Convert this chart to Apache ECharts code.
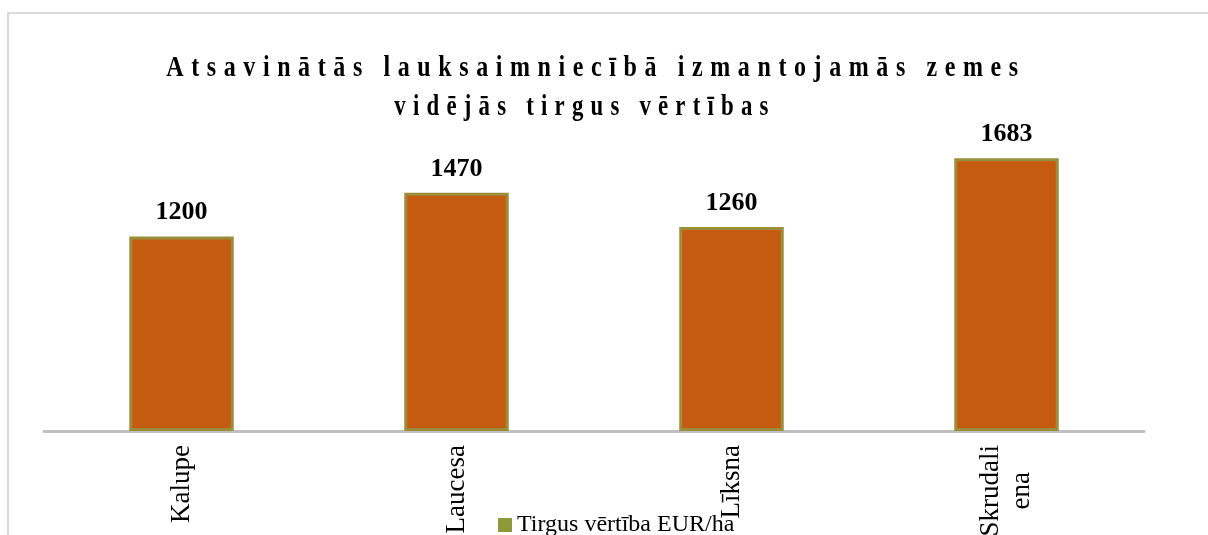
<!DOCTYPE html>
<html>
<head>
<meta charset="utf-8">
<script src="https://cdn.jsdelivr.net/npm/echarts@6/dist/echarts.min.js"></script>
<style>
    html, body { margin: 0; padding: 0; background: #fff; }
    #bar_chart { width: 1208px; height: 535px; }
</style>
</head>
<body>
<div id="bar_chart"></div>
<script>
var categories = ['Kalupe', 'Laucesa', 'Līksna', 'Skrudaliena'];
var values = [1200, 1470, 1260, 1683];
var seriesName = 'Tirgus vērtība EUR/ha';
var titleLines = ['Atsavinātās lauksaimniecībā izmantojamās zemes', 'vidējās tirgus vērtības'];

//// canvas has letterSpacing, zrender has not: use it only for the 30px title font ////
var origFillText = CanvasRenderingContext2D.prototype.fillText;
CanvasRenderingContext2D.prototype.fillText = function () {
    if (this.font.indexOf('30px') > -1) {
        this.letterSpacing = '9.5px';
    } else {
        this.letterSpacing = '0px';
    }
    return origFillText.apply(this, arguments);
};

var serif = '"Liberation Serif", "Times New Roman", serif';

function labelFormatter(value) {
    // Skrudaliena breaks in two lines, centered on each other
    if (value === 'Skrudaliena') {
        return '{c|Skrudali}\n{c|ena}';
    }
    return '{c|' + value + '}';
}

var myChart = echarts.init(document.getElementById('bar_chart'));

option = {
    animation: false,
    backgroundColor: '#ffffff',
    graphic: [
        {
            type: 'rect',
            silent: true,
            shape: { x: 8, y: 13, width: 1260, height: 560 },
            style: { fill: 'none', stroke: '#d9d9d9', lineWidth: 2 }
        },
        {
            type: 'text',
            x: 596,
            y: 68,
            scaleX: 0.8,
            style: {
                text: titleLines[0],
                font: 'bold 30px "Liberation Serif"',
                fill: '#000000',
                textAlign: 'center',
                textVerticalAlign: 'middle'
            }
        },
        {
            type: 'text',
            x: 585,
            y: 107,
            scaleX: 0.76,
            style: {
                text: titleLines[1],
                font: 'bold 30px "Liberation Serif"',
                fill: '#000000',
                textAlign: 'center',
                textVerticalAlign: 'middle'
            }
        }
    ],
    legend: {
        left: 493,
        top: 508,
        itemWidth: 14,
        itemHeight: 14,
        itemGap: 10,
        icon: 'rect',
        data: [{
            name: seriesName,
            itemStyle: { color: '#8c9a3c', borderWidth: 0 }
        }],
        textStyle: {
            fontFamily: serif,
            fontSize: 24,
            color: '#000000'
        }
    },
    grid: {
        left: 44,
        right: 64,
        top: 107,
        bottom: 104,
        outerBoundsMode: 'none'
    },
    xAxis: {
        type: 'category',
        data: categories,
        axisLine: {
            lineStyle: { color: '#bfbfbf', width: 3 }
        },
        axisTick: { show: false },
        axisLabel: {
            interval: 0,
            rotate: 90,
            margin: 14,
            color: '#000000',
            fontFamily: serif,
            fontSize: 27,
            lineHeight: 31,
            formatter: labelFormatter,
            rich: {
                c: {
                    align: 'center',
                    fontFamily: serif,
                    fontSize: 27,
                    lineHeight: 31,
                    color: '#000000'
                }
            }
        }
    },
    yAxis: {
        type: 'value',
        min: 0,
        max: 2000,
        show: false,
        splitLine: { show: false }
    },
    series: [{
        name: seriesName,
        type: 'bar',
        data: values,
        barWidth: '38%',
        itemStyle: {
            color: '#c55a11',
            borderColor: '#9a8e3a',
            borderWidth: 3
        },
        label: {
            show: true,
            position: 'top',
            distance: 11,
            color: '#000000',
            fontFamily: serif,
            fontSize: 26,
            fontWeight: 'bold'
        }
    }]
};

myChart.setOption(option);
</script>
</body>
</html>
